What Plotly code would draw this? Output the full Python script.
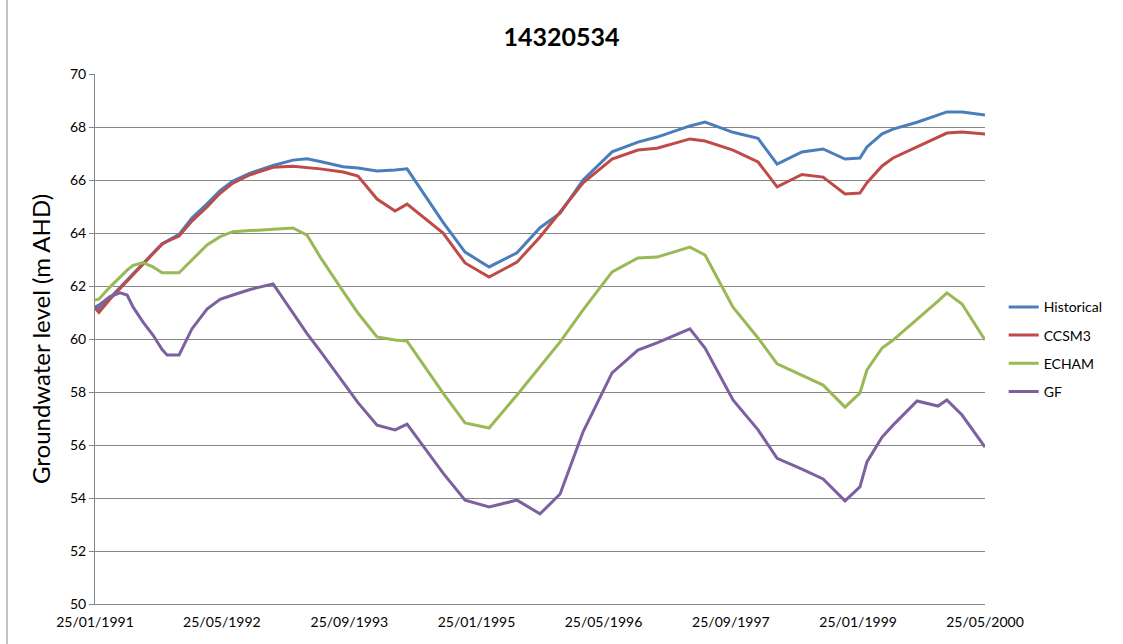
import plotly.graph_objects as go

# Observation dates (shared by all four series)
dates = [
    "1991-01-25", "1991-02-09", "1991-03-23", "1991-05-01", "1991-05-28",
    "1991-06-20", "1991-07-28", "1991-09-04", "1991-10-09", "1991-10-28",
    "1991-12-13", "1992-01-31", "1992-03-29", "1992-05-18", "1992-07-06",
    "1992-09-10", "1992-12-07", "1993-02-21", "1993-04-16", "1993-06-05",
    "1993-09-01", "1993-10-28", "1994-01-09", "1994-03-19", "1994-05-04",
    "1994-09-19", "1994-12-12", "1995-03-14", "1995-06-29", "1995-09-25",
    "1995-12-11", "1996-03-08", "1996-06-27", "1996-10-04", "1996-12-16",
    "1997-04-21", "1997-06-18", "1997-10-03", "1998-01-07", "1998-03-21",
    "1998-06-24", "1998-09-13", "1998-12-06", "1999-02-01", "1999-02-28",
    "1999-04-27", "1999-06-08", "1999-09-08", "1999-11-27", "1999-12-31",
    "2000-02-27", "2000-05-25",
]

historical = [
    61.20, 61.15, 61.55, 61.95, 62.20, 62.45, 62.85, 63.25, 63.60, 63.70,
    63.95, 64.57, 65.10, 65.60, 65.96, 66.26, 66.55, 66.75, 66.80, 66.70,
    66.50, 66.45, 66.34, 66.38, 66.42, 64.40, 63.28, 62.72, 63.25, 64.20,
    64.75, 66.00, 67.06, 67.43, 67.62, 68.04, 68.19, 67.80, 67.57, 66.60,
    67.06, 67.17, 66.79, 66.83, 67.25, 67.74, 67.92, 68.18, 68.45, 68.57,
    68.57, 68.45,
]

ccsm3 = [
    61.17, 61.00, 61.50, 61.90, 62.18, 62.42, 62.82, 63.20, 63.58, 63.68,
    63.89, 64.45, 64.98, 65.50, 65.88, 66.20, 66.48, 66.52, 66.48, 66.42,
    66.30, 66.15, 65.28, 64.83, 65.09, 64.00, 62.87, 62.34, 62.90, 63.85,
    64.79, 65.89, 66.79, 67.13, 67.20, 67.55, 67.47, 67.13, 66.68, 65.74,
    66.21, 66.11, 65.47, 65.51, 65.90, 66.53, 66.83, 67.25, 67.60, 67.77,
    67.81, 67.74,
]

echam = [
    61.47, 61.50, 61.96, 62.34, 62.60, 62.78, 62.88, 62.72, 62.50, 62.50,
    62.50, 62.98, 63.55, 63.86, 64.05, 64.09, 64.15, 64.19, 63.92, 63.10,
    61.80, 60.98, 60.08, 59.96, 59.92, 57.96, 56.83, 56.64, 57.89, 58.94,
    59.89, 61.10, 62.53, 63.06, 63.09, 63.47, 63.17, 61.20, 60.04, 59.06,
    58.63, 58.26, 57.43, 57.96, 58.83, 59.66, 59.96, 60.73, 61.43, 61.74,
    61.32, 59.96,
]

gf = [
    61.20, 61.28, 61.60, 61.74, 61.66, 61.20, 60.64, 60.15, 59.60, 59.40,
    59.40, 60.38, 61.13, 61.50, 61.66, 61.87, 62.08, 60.98, 60.20, 59.55,
    58.34, 57.60, 56.75, 56.57, 56.79, 54.94, 53.92, 53.66, 53.92, 53.40,
    54.15, 56.50, 58.72, 59.58, 59.85, 60.38, 59.66, 57.70, 56.57, 55.50,
    55.09, 54.72, 53.89, 54.42, 55.36, 56.30, 56.75, 57.66, 57.47, 57.70,
    57.13, 55.92,
]

series_names = ["Historical", "CCSM3", "ECHAM", "GF"]
series_colors = ["#4A7EBB", "#BE4B48", "#98B954", "#7D60A0"]

tick_dates = [
    "1991-01-25", "1992-05-25", "1993-09-25", "1995-01-25",
    "1996-05-25", "1997-09-25", "1999-01-25", "2000-05-25",
]
tick_labels = [
    "25/01/1991", "25/05/1992", "25/09/1993", "25/01/1995",
    "25/05/1996", "25/09/1997", "25/01/1999", "25/05/2000",
]

FONT = "Lato, 'Noto Sans', sans-serif"

fig = go.Figure()
for name, color, values in zip(series_names, series_colors,
                               [historical, ccsm3, echam, gf]):
    fig.add_trace(go.Scatter(
        x=dates, y=values, name=name, mode="lines",
        legendgroup=name,
        line=dict(color=color, width=3),
    ))

fig.update_layout(
    width=1123, height=644,
    margin=dict(l=95, r=138, t=74, b=40, autoexpand=False),
    paper_bgcolor="white", plot_bgcolor="white",
    font=dict(family=FONT, color="#000000", size=14),
    title=dict(text="<b>14320534</b>", x=0.5, xanchor="center",
               y=1 - 37 / 644, yanchor="middle",
               font=dict(family=FONT, size=25, color="#000000")),
    showlegend=True,
    legend=dict(x=1.021, xanchor="left", y=0.590, yanchor="top",
                font=dict(size=14, family=FONT),
                tracegroupgap=7, traceorder="grouped",
                bgcolor="rgba(0,0,0,0)"),
)

# chart-area frame edge on the left
fig.add_shape(type="line", xref="paper", yref="paper",
              x0=-88 / 890, x1=-88 / 890, y0=-40 / 530, y1=604 / 530,
              line=dict(color="#868686", width=1))

fig.update_xaxes(
    type="date", range=["1991-01-25", "2000-05-25"],
    tickmode="array", tickvals=tick_dates, ticktext=tick_labels,
    showgrid=False, showline=True, linecolor="#868686", linewidth=1,
    ticks="", ticklabelstandoff=5, automargin=False,
    tickfont=dict(size=14, family=FONT), zeroline=False,
)
fig.update_yaxes(
    range=[50, 70], dtick=2, tick0=50,
    showgrid=True, gridcolor="#868686", gridwidth=1,
    showline=True, linecolor="#868686", linewidth=1,
    ticks="outside", ticklen=5, tickcolor="#868686", automargin=False,
    tickfont=dict(size=14, family=FONT), zeroline=False,
    title=dict(text="Groundwater level (m AHD)",
               font=dict(size=24, family=FONT), standoff=12),
)

fig.write_html("out.html")
